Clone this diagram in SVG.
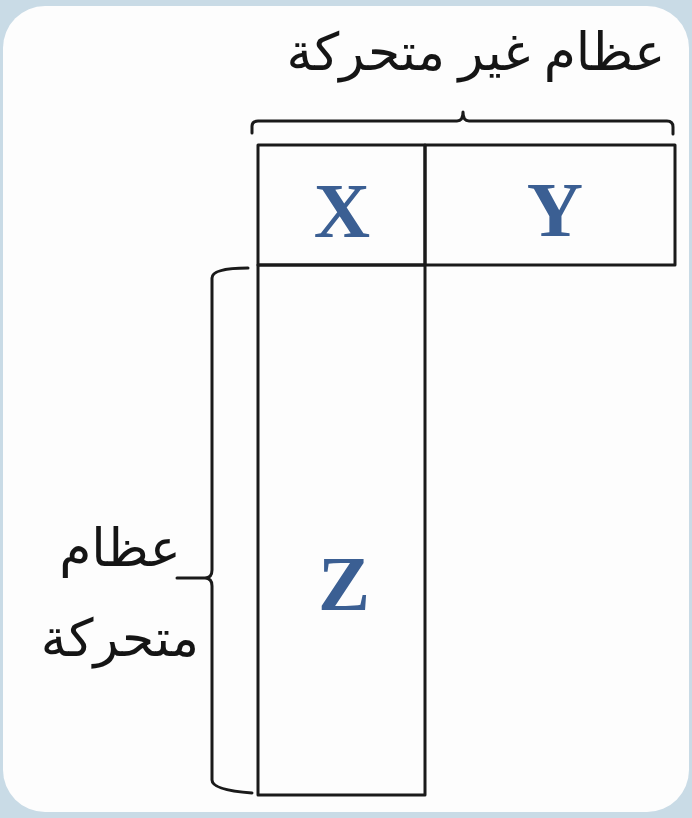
<svg xmlns="http://www.w3.org/2000/svg" width="692" height="818" viewBox="0 0 692 818">
<style>
.ln{fill:none;stroke:#1a1a1a;stroke-width:3;stroke-linejoin:round;stroke-linecap:round}
.ar{font-family:"Noto Sans","DejaVu Sans",sans-serif;font-size:52px;fill:#151515}
.lt{font-family:"Liberation Serif",serif;font-weight:bold;font-size:78px;fill:#3b5f93;text-anchor:middle}
</style>
<rect x="0" y="0" width="692" height="818" fill="#c9dbe6"/>
<rect x="3" y="6" width="686" height="806" rx="42" fill="#fdfdfd"/>
<g id="title"><text class="ar" x="476" y="70" text-anchor="middle" direction="rtl">عظام غير متحركة</text></g>
<g id="label-movable">
<text class="ar" x="120" y="566" text-anchor="middle" direction="rtl">عظام</text>
<text class="ar" x="120" y="656" text-anchor="middle" direction="rtl">متحركة</text>
</g>
<g id="connectors">
<path class="ln" d="M252,133 V126 Q252,121 258,121 H457 Q463,121 463,112 Q463,121 469,121 H667 Q673,121 673,127 V134"/>
<path class="ln" d="M248,268 Q212,268 212,278 V570 Q212,578 205,578 H177 M205,578 Q212,578 212,586 V780 Q212,790 252,793"/>
</g>
<g id="cell-x"><rect class="ln" x="258" y="145" width="167" height="120"/><text class="lt" x="342" y="237">X</text></g>
<g id="cell-y"><rect class="ln" x="425" y="145" width="250" height="120"/><text class="lt" x="555" y="236">Y</text></g>
<g id="cell-z"><rect class="ln" x="258" y="265" width="167" height="530"/><text class="lt" x="344" y="610">Z</text></g>
</svg>
